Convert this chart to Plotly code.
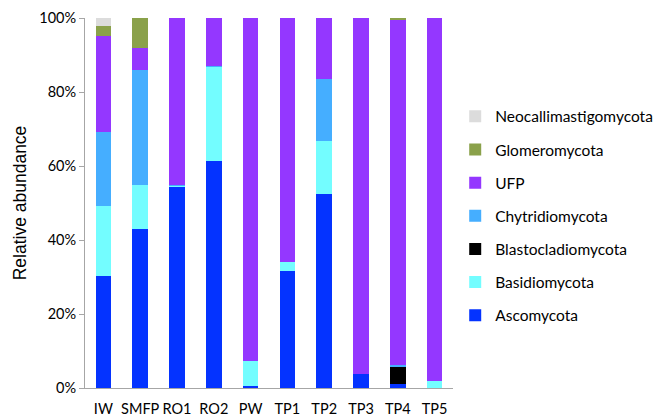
import plotly.graph_objects as go

samples = ["IW", "SMFP", "RO1", "RO2", "PW", "TP1", "TP2", "TP3", "TP4", "TP5"]

phyla = ["Ascomycota", "Basidiomycota", "Blastocladiomycota", "Chytridiomycota",
         "UFP", "Glomeromycota", "Neocallimastigomycota"]

ascomycota = [30.3, 42.9, 54.5, 61.3, 0.6, 31.7, 52.3, 3.8, 1.0, 0.1]
basidiomycota = [18.9, 12.0, 0.2, 25.5, 6.8, 2.4, 14.4, 0.0, 0.0, 1.7]
blastocladiomycota = [0.0, 0.0, 0.0, 0.0, 0.0, 0.0, 0.0, 0.0, 4.9, 0.0]
chytridiomycota = [20.0, 31.1, 0.2, 0.1, 0.0, 0.0, 16.9, 0.0, 0.3, 0.0]
ufp = [25.9, 6.0, 45.1, 13.1, 92.6, 65.9, 16.4, 96.2, 93.5, 98.2]
glomeromycota = [2.7, 8.0, 0.0, 0.0, 0.0, 0.0, 0.0, 0.0, 0.3, 0.0]
neocallimastigomycota = [2.2, 0.0, 0.0, 0.0, 0.0, 0.0, 0.0, 0.0, 0.0, 0.0]

series = [ascomycota, basidiomycota, blastocladiomycota, chytridiomycota,
          ufp, glomeromycota, neocallimastigomycota]
colors = ["#0433FF", "#73FDFF", "#000000", "#45AEFF", "#9437FF", "#8AA14A", "#DCDCDC"]

font_family = "Lato, 'Open Sans', sans-serif"

fig = go.Figure()
n = len(phyla)
for i, (name, vals, col) in enumerate(zip(phyla, series, colors)):
    fig.add_trace(go.Bar(
        x=samples, y=vals, name=name, legendgroup=name,
        legendrank=n - i,
        marker=dict(color=col, line=dict(width=0)),
    ))

# page body has an 8px default margin, so the figure is 8px smaller
fig.update_layout(
    barmode="stack",
    bargap=0.58,
    width=657, height=409,
    margin=dict(l=77, r=212, t=10, b=29, autoexpand=False),
    paper_bgcolor="white", plot_bgcolor="white",
    font=dict(family=font_family, color="#000000", size=14),
    legend=dict(
        x=1.006, y=0.779, xanchor="left", yanchor="top",
        traceorder="grouped", tracegroupgap=10,
        font=dict(size=15.5, family=font_family),
        itemwidth=30,
        bgcolor="rgba(0,0,0,0)",
    ),
    xaxis=dict(
        showline=True, linecolor="#A6A6A6", linewidth=1,
        ticks="", tickfont=dict(size=14.5),
        ticklabelstandoff=8,
        showgrid=False, automargin=False,
    ),
    yaxis=dict(
        range=[0, 100], tickvals=[0, 20, 40, 60, 80, 100],
        ticktext=["0%", "20%", "40%", "60%", "80%", "100%"],
        showline=True, linecolor="#A6A6A6", linewidth=1,
        ticks="outside", ticklen=5, tickcolor="#A6A6A6",
        showgrid=False, zeroline=False, automargin=False,
        tickfont=dict(size=14.5),
        title=dict(text="Relative abundance",
                   font=dict(size=17.5, family="'Liberation Sans', Arial, sans-serif"),
                   standoff=8),
    ),
)

fig.write_html("out.html")
